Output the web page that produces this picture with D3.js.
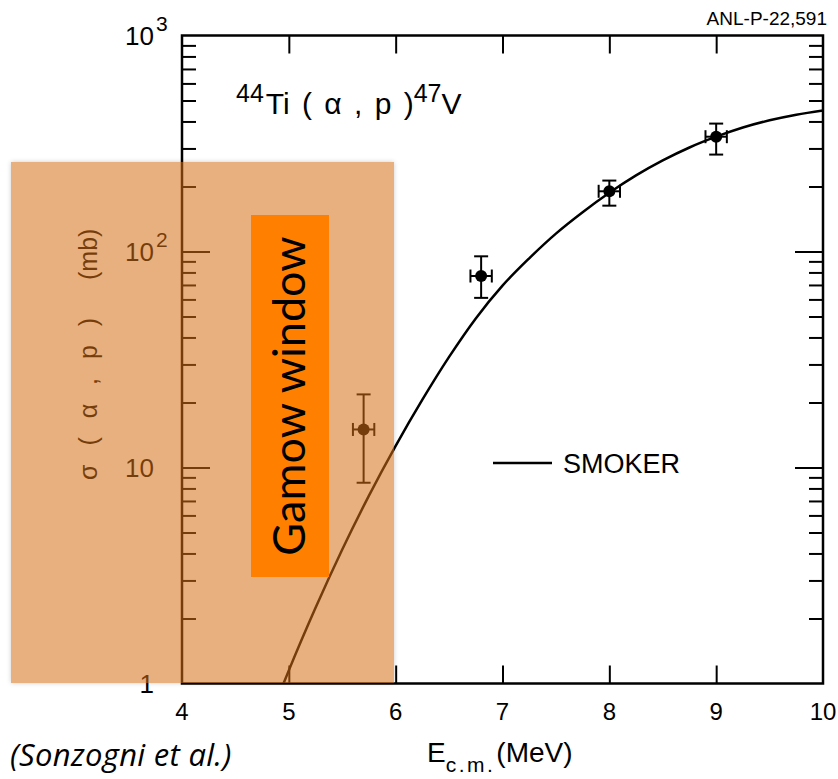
<!DOCTYPE html>
<html>
<head>
<meta charset="utf-8">
<script src="https://cdn.jsdelivr.net/npm/d3@7"></script>
<style>
  body { margin: 0; background: #fff; }
  svg { display: block; }
  text { font-family: "Liberation Sans", Arial, Helvetica, sans-serif; fill: #000; }
</style>
</head>
<body>
<svg id="chart" width="838" height="779"></svg>
<script>
// Hauser-Feshbach (SMOKER) prediction, sigma in mb vs E_cm in MeV
const smokerEnergy = [4.95, 5.0, 5.25, 5.5, 5.75, 6.0, 6.25, 6.5, 6.75, 7.0, 7.25, 7.5, 7.75, 8.0, 8.25, 8.5, 8.75, 9.0, 9.25, 9.5, 9.75, 10.0];
const smokerSigma  = [1.0, 1.15, 2.24, 4.17, 7.41, 12.6, 20.6, 32.5, 49.0, 69.5, 93.0, 121, 152, 187, 225, 264, 303, 340, 375, 405, 430, 450];

// Measured cross sections with uncertainties
const dataEnergy     = [5.7, 6.8, 8.0, 9.0];
const dataEnergyErr  = [0.1, 0.1, 0.1, 0.1];
const dataSigma      = [15.0, 77, 190, 340];
const dataSigmaLow   = [8.5, 61, 163, 281];
const dataSigmaHigh  = [21.8, 95, 213, 391];

// Axis ticks
const xTickValues = [4, 5, 6, 7, 8, 9, 10];
const yMajorValues = [1, 10, 100, 1000];
const yMajorBase   = ["1", "10", "10", "10"];
const yMajorExp    = ["", "", "2", "3"];

const svg = d3.select("#chart");

const X0 = 182, X1 = 823, Y0 = 683.5, Y1 = 35.5;
const x = d3.scaleLinear().domain([4, 10]).range([X0, X1]);
const y = d3.scaleLog().domain([1, 1000]).range([Y0, Y1]);

const yMinor = [];
[1, 10, 100].forEach(d => { for (let k = 2; k <= 9; k++) yMinor.push(d * k); });

const defs = svg.append("defs");
defs.append("clipPath").attr("id", "plotClip")
  .append("rect").attr("x", X0).attr("y", Y1).attr("width", X1 - X0).attr("height", Y0 - Y1);
const shadow = defs.append("filter").attr("id", "soft").attr("x", "-5%").attr("y", "-5%").attr("width", "110%").attr("height", "110%");
shadow.append("feDropShadow").attr("dx", 0).attr("dy", 0).attr("stdDeviation", 2.5)
  .attr("flood-color", "#000").attr("flood-opacity", 0.35);

const plot = svg.append("g");

// Ticks
function styleAxis(g) {
  g.select(".domain").remove();
  g.selectAll(".tick line").attr("stroke", "#000").attr("stroke-width", 2);
  g.selectAll(".tick text").remove();
}
plot.append("g").attr("transform", `translate(${X0},0)`)
  .call(d3.axisRight(y).tickValues(yMinor).tickSize(14).tickFormat("")).call(styleAxis);
plot.append("g").attr("transform", `translate(${X0},0)`)
  .call(d3.axisRight(y).tickValues([10, 100]).tickSize(28).tickFormat("")).call(styleAxis);
plot.append("g").attr("transform", `translate(${X1},0)`)
  .call(d3.axisLeft(y).tickValues(yMinor).tickSize(14).tickFormat("")).call(styleAxis);
plot.append("g").attr("transform", `translate(${X1},0)`)
  .call(d3.axisLeft(y).tickValues([10, 100]).tickSize(28).tickFormat("")).call(styleAxis);
plot.append("g").attr("transform", `translate(0,${Y1})`)
  .call(d3.axisBottom(x).tickValues(xTickValues.slice(1, -1)).tickSize(18).tickFormat("")).call(styleAxis);
plot.append("g").attr("transform", `translate(0,${Y0})`)
  .call(d3.axisTop(x).tickValues(xTickValues.slice(1, -1)).tickSize(18).tickFormat("")).call(styleAxis);

// Frame
plot.append("rect").attr("x", X0).attr("y", Y1).attr("width", X1 - X0).attr("height", Y0 - Y1)
  .attr("fill", "none").attr("stroke", "#000").attr("stroke-width", 2.5);

// SMOKER curve
const curvePts = smokerEnergy.map((e, i) => [e, smokerSigma[i]]);
plot.append("path")
  .datum(curvePts)
  .attr("clip-path", "url(#plotClip)")
  .attr("fill", "none").attr("stroke", "#000").attr("stroke-width", 2.5)
  .attr("d", d3.line().x(d => x(d[0])).y(d => y(d[1])).curve(d3.curveMonotoneX));

// Data points with error bars
const pts = plot.append("g").attr("stroke", "#000").attr("stroke-width", 2);
dataEnergy.forEach((e, i) => {
  const cx = x(e), cy = y(dataSigma[i]);
  const yl = y(dataSigmaLow[i]), yh = y(dataSigmaHigh[i]);
  const xl = x(e - dataEnergyErr[i]), xh = x(e + dataEnergyErr[i]);
  pts.append("line").attr("x1", cx).attr("x2", cx).attr("y1", yl).attr("y2", yh);
  pts.append("line").attr("x1", cx - 7).attr("x2", cx + 7).attr("y1", yl).attr("y2", yl);
  pts.append("line").attr("x1", cx - 7).attr("x2", cx + 7).attr("y1", yh).attr("y2", yh);
  pts.append("line").attr("x1", xl).attr("x2", xh).attr("y1", cy).attr("y2", cy);
  pts.append("line").attr("x1", xl).attr("x2", xl).attr("y1", cy - 6.5).attr("y2", cy + 6.5);
  pts.append("line").attr("x1", xh).attr("x2", xh).attr("y1", cy - 6.5).attr("y2", cy + 6.5);
  pts.append("circle").attr("cx", cx).attr("cy", cy).attr("r", 6).attr("fill", "#000").attr("stroke", "none");
});

// Legend
plot.append("line").attr("x1", 493).attr("x2", 552).attr("y1", 463).attr("y2", 463)
  .attr("stroke", "#000").attr("stroke-width", 2.5);
plot.append("text").attr("x", 563).attr("y", 473).attr("font-size", 27).text("SMOKER");

// Reaction title
const title = plot.append("text").attr("x", 236).attr("y", 114).attr("font-size", 30).attr("word-spacing", 4);
title.append("tspan").attr("font-size", 25).attr("dy", -12).text("44");
title.append("tspan").attr("dy", 12).attr("dx", 2).text("Ti ( α , p )");
title.append("tspan").attr("font-size", 25).attr("dy", -12).text("47");
title.append("tspan").attr("dy", 12).text("V");

// Y tick labels
yMajorValues.forEach((v, i) => {
  plot.append("text").attr("x", 154).attr("y", y(v) + 9).attr("font-size", 26)
    .attr("text-anchor", "end").text(yMajorBase[i]);
  if (yMajorExp[i]) {
    plot.append("text").attr("x", 156).attr("y", y(v) - 5).attr("font-size", 21).text(yMajorExp[i]);
  }
});

// X tick labels
xTickValues.forEach(v => {
  plot.append("text").attr("x", x(v)).attr("y", 720).attr("font-size", 24)
    .attr("text-anchor", "middle").text(v);
});

// X axis title
const xt = plot.append("text").attr("x", 427).attr("y", 762).attr("font-size", 28);
xt.append("tspan").text("E");
xt.append("tspan").attr("font-size", 21).attr("dy", 10).attr("letter-spacing", 2.5).text("c.m.");
xt.append("tspan").attr("dy", -10).attr("dx", 1).text("(MeV)");

// Y axis title
plot.append("text").attr("transform", "translate(97,480) rotate(-90)")
  .attr("font-size", 25).attr("word-spacing", 12).style("white-space", "pre")
  .text("σ ( α , p )  (mb)");

// Report number and citation
svg.append("text").attr("x", 827).attr("y", 25).attr("font-size", 19).attr("text-anchor", "end").text("ANL-P-22,591");
svg.append("text").attr("x", 10).attr("y", 766).attr("font-size", 31).attr("letter-spacing", 0.3)
  .style("font-family", "'Open Sans', Lato, sans-serif").style("font-style", "italic")
  .text("(Sonzogni et al.)");

// Shaded overlay: opaque rect with soft edge, made translucent as a group
svg.append("g").attr("opacity", 0.55)
  .append("rect").attr("x", 11).attr("y", 162).attr("width", 383).attr("height", 521)
  .attr("fill", "rgb(215,111,19)").attr("filter", "url(#soft)");

// Gamow window label
svg.append("rect").attr("x", 251).attr("y", 215).attr("width", 78).attr("height", 362).attr("fill", "#ff7f00");
svg.append("text").attr("transform", "translate(305,396) rotate(-90)")
  .attr("text-anchor", "middle").attr("font-size", 45)
  .style("font-family", "Lato, 'Open Sans', sans-serif")
  .text("Gamow window");
</script>
</body>
</html>
